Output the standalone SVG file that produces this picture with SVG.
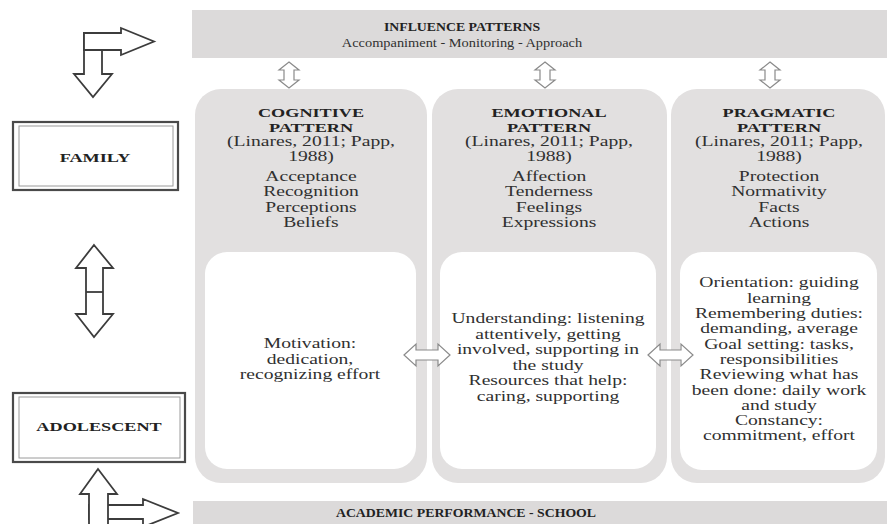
<svg xmlns="http://www.w3.org/2000/svg" width="887" height="524" viewBox="0 0 887 524">
  <style>
    .band { fill: #dcdada; }
    .col { fill: #e2e0e0; }
    .inner { fill: #ffffff; }
    .h { font-family: "Liberation Serif", "Times New Roman", serif; font-weight: bold; font-size: 13px; fill: #222; text-anchor: middle; }
    .t { font-family: "Liberation Serif", "Times New Roman", serif; font-size: 14px; fill: #303030; text-anchor: middle; }
    .bt { font-family: "Liberation Serif", "Times New Roman", serif; font-weight: bold; font-size: 12px; fill: #222; text-anchor: middle; }
    .bs { font-family: "Liberation Serif", "Times New Roman", serif; font-size: 12.5px; fill: #303030; text-anchor: middle; }
    .big { fill: #ffffff; stroke: #3c3c3c; stroke-width: 1.8; stroke-linejoin: miter; }
    .small { fill: #ffffff; stroke: #8a8a8a; stroke-width: 1.2; }
    .frame-out { fill: #ffffff; stroke: #4a4a4a; stroke-width: 2.2; }
    .frame-in { fill: none; stroke: #9a9a9a; stroke-width: 1; }
  </style>

  <!-- top band -->
  <g id="influence">
    <rect class="band" x="192" y="10" width="695" height="48"/>
    <g transform="translate(462,0) scale(1.15,1)">
      <text class="bt" x="0" y="31.5">INFLUENCE PATTERNS</text>
      <text class="bs" x="0" y="47">Accompaniment - Monitoring - Approach</text>
    </g>
  </g>

  <!-- bottom band -->
  <g id="academic">
    <rect class="band" x="193" y="501" width="694" height="23"/>
    <g transform="translate(466,0) scale(1.15,1)">
      <text class="bt" x="0" y="517">ACADEMIC PERFORMANCE - SCHOOL</text>
    </g>
  </g>

  <!-- cognitive column -->
  <g id="cognitive">
    <rect class="col" x="195" y="89" width="232" height="394" rx="26"/>
    <rect class="inner" x="205" y="252" width="211" height="217" rx="22"/>
    <g transform="translate(311,0) scale(1.4,1)">
      <text class="h" x="0" y="117.5">COGNITIVE</text>
      <text class="h" x="0" y="132">PATTERN</text>
      <text class="t" x="0" y="146.5">(Linares, 2011; Papp,</text>
      <text class="t" x="0" y="161">1988)</text>
      <text class="t" x="0" y="181">Acceptance</text>
      <text class="t" x="0" y="196.5">Recognition</text>
      <text class="t" x="0" y="212">Perceptions</text>
      <text class="t" x="0" y="227.5">Beliefs</text>
    </g>
    <g transform="translate(310,0) scale(1.4,1)">
      <text class="t" x="0" y="348.5">Motivation:</text>
      <text class="t" x="0" y="364">dedication,</text>
      <text class="t" x="0" y="379.5">recognizing effort</text>
    </g>
  </g>

  <!-- emotional column -->
  <g id="emotional">
    <rect class="col" x="432" y="89" width="235" height="394" rx="26"/>
    <rect class="inner" x="440" y="252" width="216" height="217" rx="22"/>
    <g transform="translate(549,0) scale(1.4,1)">
      <text class="h" x="0" y="117.5">EMOTIONAL</text>
      <text class="h" x="0" y="132">PATTERN</text>
      <text class="t" x="0" y="146.5">(Linares, 2011; Papp,</text>
      <text class="t" x="0" y="161">1988)</text>
      <text class="t" x="0" y="181">Affection</text>
      <text class="t" x="0" y="196.5">Tenderness</text>
      <text class="t" x="0" y="212">Feelings</text>
      <text class="t" x="0" y="227.5">Expressions</text>
    </g>
    <g transform="translate(548,0) scale(1.4,1)">
      <text class="t" x="0" y="323.5">Understanding: listening</text>
      <text class="t" x="0" y="339">attentively, getting</text>
      <text class="t" x="0" y="354.5">involved, supporting in</text>
      <text class="t" x="0" y="370">the study</text>
      <text class="t" x="0" y="385.5">Resources that help:</text>
      <text class="t" x="0" y="401">caring, supporting</text>
    </g>
  </g>

  <!-- pragmatic column -->
  <g id="pragmatic">
    <rect class="col" x="671" y="89" width="214" height="394" rx="26"/>
    <rect class="inner" x="680" y="252" width="197" height="218" rx="22"/>
    <g transform="translate(779,0) scale(1.4,1)">
      <text class="h" x="0" y="117.5">PRAGMATIC</text>
      <text class="h" x="0" y="132">PATTERN</text>
      <text class="t" x="0" y="146.5">(Linares, 2011; Papp,</text>
      <text class="t" x="0" y="161">1988)</text>
      <text class="t" x="0" y="181">Protection</text>
      <text class="t" x="0" y="196.5">Normativity</text>
      <text class="t" x="0" y="212">Facts</text>
      <text class="t" x="0" y="227.5">Actions</text>
    </g>
    <g transform="translate(779,0) scale(1.4,1)">
      <text class="t" x="0" y="287.5">Orientation: guiding</text>
      <text class="t" x="0" y="302.8">learning</text>
      <text class="t" x="0" y="318.1">Remembering duties:</text>
      <text class="t" x="0" y="333.4">demanding, average</text>
      <text class="t" x="0" y="348.7">Goal setting: tasks,</text>
      <text class="t" x="0" y="364">responsibilities</text>
      <text class="t" x="0" y="379.3">Reviewing what has</text>
      <text class="t" x="0" y="394.6">been done: daily work</text>
      <text class="t" x="0" y="409.9">and study</text>
      <text class="t" x="0" y="425.2">Constancy:</text>
      <text class="t" x="0" y="440.5">commitment, effort</text>
    </g>
  </g>

  <!-- family box -->
  <g id="family">
    <rect class="frame-out" x="13" y="122" width="165" height="68"/>
    <rect class="frame-in" x="19" y="126" width="154" height="60"/>
    <g transform="translate(95,0) scale(1.4,1)">
      <text class="h" x="0" y="162">FAMILY</text>
    </g>
  </g>

  <!-- adolescent box -->
  <g id="adolescent">
    <rect class="frame-out" x="13" y="393" width="172" height="69"/>
    <rect class="frame-in" x="19" y="397" width="161" height="61"/>
    <g transform="translate(99,0) scale(1.4,1)">
      <text class="h" x="0" y="431.5">ADOLESCENT</text>
    </g>
  </g>

  <!-- connectors -->
  <g id="connectors">
    <!-- bent arrow, top left -->
    <polygon class="big" points="84,33 102,33 102,74 112,74 93,97 74,74 84,74"/>
    <polygon class="big" points="84,33 121,33 121,28 154,41.5 121,55 121,50 84,50"/>

    <!-- family / adolescent double arrow -->
    <polygon class="big" points="94,245 113,268 103,268 103,314 113,314 94,337 76,314 86,314 86,268 76,268"/>
    <line x1="86" y1="292" x2="103" y2="292" stroke="#3c3c3c" stroke-width="1.8"/>

    <!-- bent arrow, bottom left -->
    <polygon class="big" points="89,505 143,505 143,499 178,513 143,527 143,519 89,519"/>
    <polygon class="big" points="98,469 117,494 108,494 108,530 89,530 89,494 80,494"/>

    <!-- band to columns -->
    <polygon class="small" points="289,62 299,70 294,70 294,80 299,80 289,88 279,80 284,80 284,70 279,70"/>
    <polygon class="small" points="545,62 555,70 550,70 550,80 555,80 545,88 535,80 540,80 540,70 535,70"/>
    <polygon class="small" points="770,62 780,70 775,70 775,80 780,80 770,88 760,80 765,80 765,70 760,70"/>

    <!-- between inner boxes -->
    <polygon class="small" points="404,355 416,344 416,350 438,350 438,344 450,355 438,366 438,360 416,360 416,366"/>
    <polygon class="small" points="648,355 660,344 660,350 681,350 681,344 693,355 681,366 681,360 660,360 660,366"/>
  </g>
</svg>
